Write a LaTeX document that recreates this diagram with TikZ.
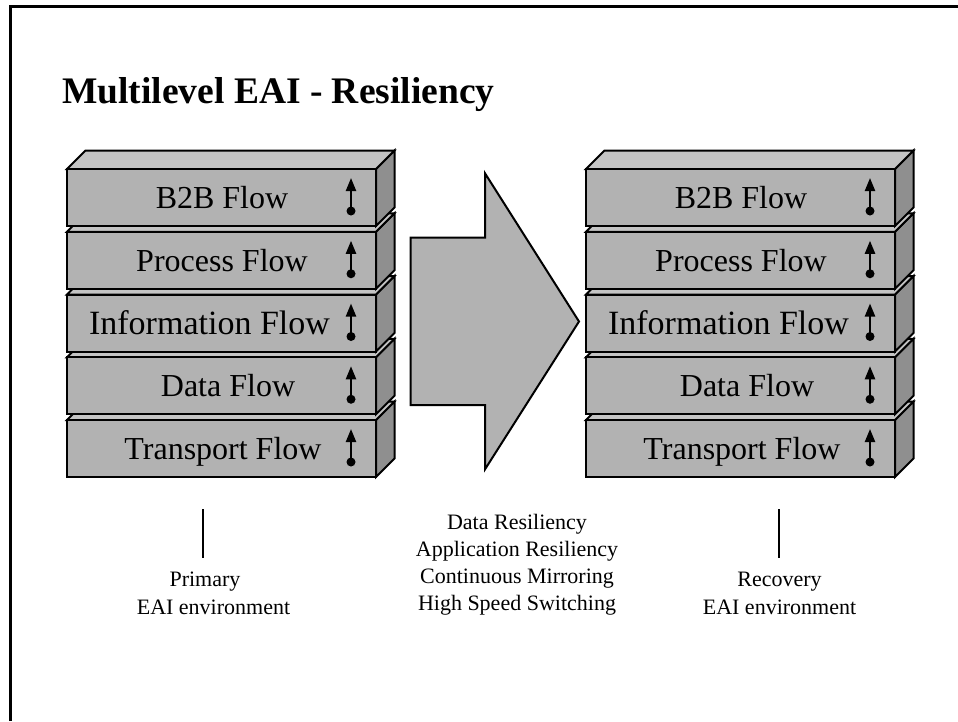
\documentclass[tikz,border=0pt]{standalone}
\usepackage{fontspec}
\setmainfont{Liberation Serif}
\usetikzlibrary{arrows.meta}
\definecolor{frontg}{gray}{0.70}
\definecolor{topg}{gray}{0.77}
\definecolor{sideg}{gray}{0.56}
\tikzset{
  edge/.style={draw=black, line width=2pt, line join=miter},
  frontface/.style={edge, fill=frontg},
  topface/.style={edge, fill=topg},
  sideface/.style={edge, fill=sideg},
  boxtext/.style={anchor=base, inner sep=0pt, font=\fontsize{32}{38}\selectfont},
  labtext/.style={anchor=base, inner sep=0pt, font=\fontsize{22}{27}\selectfont},
  titletext/.style={anchor=base west, inner sep=0pt, font=\fontsize{37.5}{44}\selectfont\bfseries},
  flowarrow/.style={line width=2.2pt, -{Triangle[width=10pt,length=13pt]}},
}
\newcommand\drawflowstack[2]{%
  \foreach \i/\lab/\tx/\fs in {4/Transport Flow/223/32, 3/Data Flow/228/32, 2/Information Flow/209.5/34, 1/Process Flow/222/32, 0/B2B Flow/222/32}{
    \pgfmathsetmacro\yy{169+\i*62.75}
    \pgfmathsetmacro\xx{67+#1}
    \pgfmathsetmacro\tt{\tx+#1}
    \filldraw[sideface] (\xx+309,\yy) -- ++(18.5,-18.5) -- ++(0,57) -- ++(-18.5,18.5) -- cycle;
    \filldraw[topface] (\xx,\yy) -- ++(18.5,-18.5) -- ++(309,0) -- ++(-18.5,18.5) -- cycle;
    \filldraw[frontface] (\xx,\yy) rectangle ++(309,57);
    \node[boxtext, font=\fontsize{\fs}{38}\selectfont] (#2\i) at (\tt, \yy+39.5) {\lab};
    \coordinate (#2d\i) at (\xx+284, \yy+42);
    \coordinate (#2t\i) at (\xx+284, \yy+9);
    \draw[flowarrow] (#2d\i) -- (#2t\i);
    \fill (#2d\i) circle[radius=4.5pt];
  }%
}
\begin{document}
\begin{tikzpicture}[x=1pt, y=-1pt]
\useasboundingbox (0,0) rectangle (958,721);
\fill[white] (0,0) rectangle (958,721);
% frame
\draw[line width=2.5pt] (10.5,721) -- (10.5,6.5) -- (958,6.5);
% title
\node[titletext] (title) at (62,103) {Multilevel EAI - Resiliency};
% stacks
\drawflowstack{0}{L}
\drawflowstack{519}{R}
% big arrow
\filldraw[frontface] (410.7,237.7) -- (485,237.7) -- (485,173.3) -- (579,321.5)
  -- (485,469.3) -- (485,405) -- (410.7,405) -- cycle;
% left label
\coordinate (lt) at (203,509);
\coordinate (lb) at (203,558);
\draw[line width=1.3pt] (lt) -- (lb);
\node[labtext] (prim) at (205,586) {Primary};
\node[labtext] (prim2) at (213.5,614) {EAI environment};
% right label
\coordinate (rt) at (779,509);
\coordinate (rb) at (779,558);
\draw[line width=1.3pt] (rt) -- (rb);
\node[labtext] (rec) at (779.5,586) {Recovery};
\node[labtext] (rec2) at (779.5,614) {EAI environment};
% middle label
\node[labtext] (m1) at (517,529) {Data Resiliency};
\node[labtext] (m2) at (517,556) {Application Resiliency};
\node[labtext] (m3) at (517,583) {Continuous Mirroring};
\node[labtext] (m4) at (517,610) {High Speed Switching};
\end{tikzpicture}
\end{document}
